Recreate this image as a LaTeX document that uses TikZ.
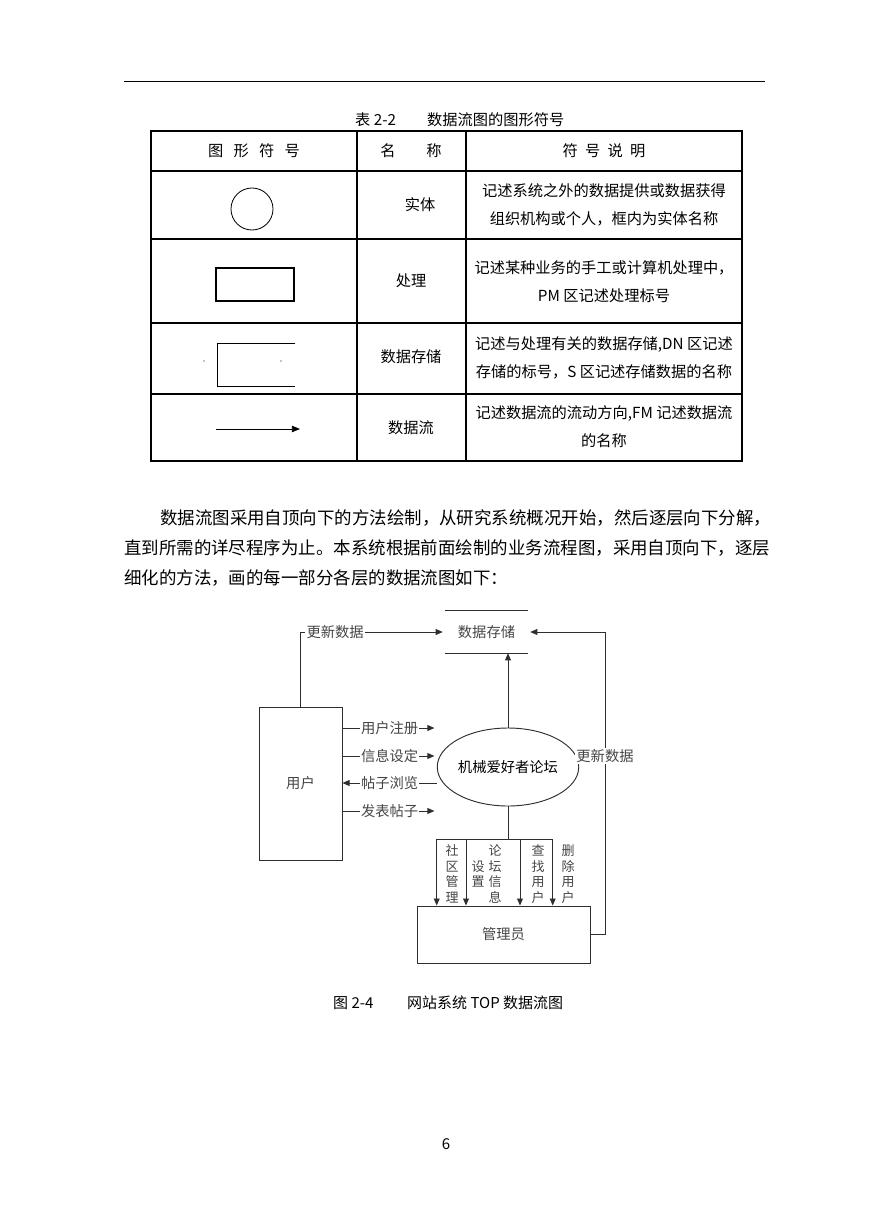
\documentclass[tikz,border=0pt]{standalone}
\usepackage{fontspec}
\usepackage{tikz}
\setmainfont{Noto Sans CJK SC}
\usetikzlibrary{arrows.meta,shapes.geometric}
\definecolor{linegray}{HTML}{2E2E2E}
\definecolor{textgray}{HTML}{454545}
\newcommand\tblfont{\fontsize{13pt}{24pt}\selectfont}
\newcommand\parafont{\fontsize{14.9pt}{18pt}\selectfont}
\newcommand\capfont{\fontsize{12.8pt}{15pt}\selectfont}
\newcommand\dfdfont{\fontsize{12.2pt}{14pt}\selectfont}
\newcommand\vertfont{\fontsize{11.1pt}{13.2pt}\selectfont}

\begin{document}
\begin{tikzpicture}[x=0.03cm,y=-0.03cm,
  tabline/.style={line width=0.9pt},
  cell/.style={align=center,inner sep=0pt,font=\tblfont},
  dfd/.style={draw=linegray,line width=0.8pt},
  flow/.style={dfd,-{Triangle[length=6pt,width=5pt]}},
  lbl/.style={fill=white,inner sep=1pt,text=textgray,font=\dfdfont},
  vlbl/.style={inner sep=0pt,align=center,text=textgray,font=\vertfont}]
  \useasboundingbox (0,0) rectangle (869,1228);

  % page rule and table caption
  \draw[line width=0.8pt] (124,81) -- (765,81);
  \node[anchor=west,inner sep=0pt,font=\tblfont] (tabno) at (355,120) {表 2-2};
  \node[anchor=west,inner sep=0pt,font=\tblfont] (tabtitle) at (427,120) {数据流图的图形符号};

  % table grid
  \draw[tabline] (151,131) rectangle (742,461);
  \foreach \y in {171,239,323,394}
    \draw[tabline] (151,\y) -- (742,\y);
  \foreach \x in {357,466}
    \draw[tabline] (\x,131) -- (\x,461);

  % header row
  \node[cell] (hsym) at (254,151) {图\hspace{0.31cm}形\hspace{0.31cm}符\hspace{0.31cm}号};
  \node[cell] (hname) at (411,151) {名\hspace{0.92cm}称};
  \node[cell] (hdesc) at (604,151) {符\hspace{0.22cm}号\hspace{0.22cm}说\hspace{0.22cm}明};

  % entity
  \node[draw,circle,line width=0.7pt,minimum size=1.26cm,inner sep=0pt] (entsym) at (252,209) {};
  \node[cell] (entname) at (420,205) {实体};
  \node[cell] (entdesc) at (604,205) {记述系统之外的数据提供或数据获得\\组织机构或个人，框内为实体名称};

  % process
  \node[draw,line width=0.9pt,minimum width=2.34cm,minimum height=0.99cm,inner sep=0pt] (procsym) at (255,284.5) {};
  \node[cell] (procname) at (411,281) {处理};
  \node[cell] (procdesc) at (604,282) {记述某种业务的手工或计算机处理中，\\PM 区记述处理标号};

  % data store
  \draw[line width=0.8pt] (295,343) -- (217,343) -- (217,386) -- (295,386);
  \fill (204,361) circle (0.6);
  \fill (281,361) circle (0.6);
  \node[cell] (storename) at (411,357) {数据存储};
  \node[cell] (storedesc) at (604,358) {记述与处理有关的数据存储,DN 区记述\\存储的标号，S 区记述存储数据的名称};

  % data flow
  \coordinate (fsa) at (216,429);
  \coordinate (fsb) at (300,429);
  \draw[line width=0.8pt,-{Triangle[length=7pt,width=5.5pt]}] (fsa) -- (fsb);
  \node[cell] (flowname) at (411,428) {数据流};
  \node[cell] (flowdesc) at (604,427) {记述数据流的流动方向,FM 记述数据流\\的名称};

  % paragraph
  \node[anchor=west,inner sep=0pt,font=\parafont] (para1) at (160,518) {数据流图采用自顶向下的方法绘制，从研究系统概况开始，然后逐层向下分解，};
  \node[anchor=west,inner sep=0pt,font=\parafont] (para2) at (124,548) {直到所需的详尽程序为止。本系统根据前面绘制的业务流程图，采用自顶向下，逐层};
  \node[anchor=west,inner sep=0pt,font=\parafont] (para3) at (124,578) {细化的方法，画的每一部分各层的数据流图如下：};

  % data flow diagram
  \node[minimum width=2.49cm,minimum height=1.26cm,inner sep=0pt,text=textgray,font=\dfdfont] (store) at (486.5,632) {数据存储};
  \draw[dfd] (store.north west) -- (store.north east);
  \draw[dfd] (store.south west) -- (store.south east);
  \node[dfd,minimum width=2.49cm,minimum height=4.59cm,inner sep=0pt,text=textgray,font=\dfdfont] (user) at (300.5,783.5) {用户};
  \node[dfd,ellipse,minimum width=3.75cm,minimum height=2.34cm,inner sep=0pt,font=\dfdfont] (forum) at (508,767) {机械爱好者论坛};
  \node[dfd,minimum width=5.19cm,minimum height=1.71cm,inner sep=0pt,text=textgray,font=\dfdfont] (admin) at (503.5,934.5) {管理员};

  \coordinate (f1) at (400,728);
  \coordinate (f2) at (400,756);
  \coordinate (f3) at (400,783);
  \coordinate (f4) at (400,811);
  \draw[flow,shorten >=0.06cm] (user.north) |- node[lbl,pos=0.62] (updl) {更新数据} (store.west);
  \draw[flow,shorten >=0.07cm] (user.east |- f1) -- node[lbl] (reg) {用户注册} (forum.west |- f1);
  \draw[flow,shorten >=0.07cm] (user.east |- f2) -- node[lbl] (setinfo) {信息设定} (forum.west |- f2);
  \draw[flow] (forum.west |- f3) -- node[lbl] (browse) {帖子浏览} (user.east |- f3);
  \draw[flow,shorten >=0.07cm] (user.east |- f4) -- node[lbl] (post) {发表帖子} (forum.west |- f4);
  \draw[flow] (forum.north) -- (forum.north |- store.south);

  \coordinate (b1) at (436.7,839);
  \coordinate (b2) at (466,839);
  \coordinate (b3) at (520,839);
  \coordinate (b4) at (552.7,839);
  \draw[dfd] (forum.south) -- (forum.south |- b1);
  \draw[dfd] (b1) -- (b4);
  \foreach \b in {b1,b2,b3,b4}
    \draw[flow] (\b) -- (\b |- admin.north);
  \node[vlbl] (comm) at (452,874) {社\\区\\管\\理};
  \node[vlbl] (setup) at (478,874) {设\\置};
  \node[vlbl] (finfo) at (495,874) {论\\坛\\信\\息};
  \node[vlbl] (finduser) at (538,874) {查\\找\\用\\户};
  \node[vlbl] (deluser) at (568,874) {删\\除\\用\\户};

  \draw[flow,shorten >=0.06cm] (admin.east) -- ++(15,0) |- (store.east);
  \node[lbl] (updr) at (605,756) {更新数据};

  % figure caption and page number
  \node[anchor=west,inner sep=0pt,font=\capfont] (figno) at (333,1003) {图 2-4};
  \node[anchor=west,inner sep=0pt,font=\capfont] (figtitle) at (407,1003) {网站系统 TOP 数据流图};
  \node[inner sep=0pt,font=\capfont] (pageno) at (446,1144) {6};
\end{tikzpicture}
\end{document}
